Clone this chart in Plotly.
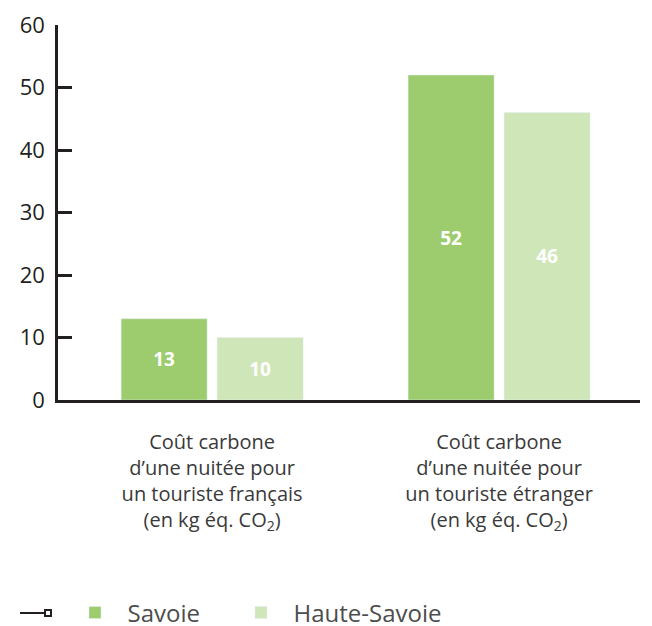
import plotly.graph_objects as go

categories = [
    "Coût carbone<br>d’une nuitée pour<br>un touriste français<br>(en kg éq. CO<sub>2</sub>)",
    "Coût carbone<br>d’une nuitée pour<br>un touriste étranger<br>(en kg éq. CO<sub>2</sub>)",
]
savoie = [13, 52]
haute_savoie = [10, 46]
y_ticks = [0, 10, 20, 30, 40, 50, 60]

FONT = "'Open Sans', Lato, sans-serif"
DARK = "#231f20"

fig = go.Figure()
fig.add_trace(go.Bar(
    x=categories, y=savoie, name="\u00a0\u00a0Savoie", marker_color="#9ccc6e",
    text=[str(v) for v in savoie], textposition="inside", insidetextanchor="middle",
    textfont=dict(color="white", size=19, family=FONT, weight="bold"),
    legend="legend2",
))
fig.add_trace(go.Bar(
    x=categories, y=haute_savoie, name="\u00a0\u00a0Haute-Savoie", marker_color="#cfe6b8",
    text=[str(v) for v in haute_savoie], textposition="inside", insidetextanchor="middle",
    textfont=dict(color="white", size=19, family=FONT, weight="bold"),
    legend="legend3",
))

# decorative legend key (line with small square)
fig.add_shape(type="line", xref="paper", yref="paper", x0=(20-58)/582, x1=(45-58)/582,
              y0=(400-613)/375, y1=(400-613)/375, line=dict(color=DARK, width=2))
fig.add_shape(type="rect", xref="paper", yref="paper", x0=(45-58)/582, x1=(51-58)/582,
              y0=(400-616)/375, y1=(400-610)/375, line=dict(color=DARK, width=2), fillcolor="white")

legend_common = dict(orientation="h", yanchor="middle", xanchor="left",
                     font=dict(size=24, family=FONT, color="#4d4d4d"), bgcolor="rgba(0,0,0,0)")

fig.update_layout(
    width=652, height=626,
    margin=dict(l=58, r=12, t=25, b=226, autoexpand=False),
    plot_bgcolor="white", paper_bgcolor="white",
    barmode="group", bargap=0.331, bargroupgap=0.104,
    font=dict(family=FONT, color="#333333"),
    showlegend=True,
    legend2=dict(x=(75-58)/582, y=(400-613)/375, **legend_common),
    legend3=dict(x=(241-58)/582, y=(400-613)/375, **legend_common),
    xaxis=dict(
        type="category", range=[-0.537, 1.491], automargin=False,
        showline=True, linecolor=DARK, linewidth=3, ticks="",
        tickfont=dict(size=20, family=FONT, color="#3a3a3a"),
        showgrid=False, zeroline=False, ticklabelstandoff=22,
    ),
    yaxis=dict(
        range=[0, 60], tickvals=y_ticks, ticktext=[str(v) for v in y_ticks],
        automargin=False,
        showline=True, linecolor=DARK, linewidth=2.5,
        ticks="inside", ticklen=14, tickwidth=2.5, tickcolor=DARK,
        tickfont=dict(size=22, family=FONT, color="#231f20"),
        showgrid=False, zeroline=False, ticklabelstandoff=6,
    ),
)

fig.write_html("out.html", config={"displayModeBar": False},
               post_script="document.body.style.margin='0';document.body.style.overflow='hidden';")
